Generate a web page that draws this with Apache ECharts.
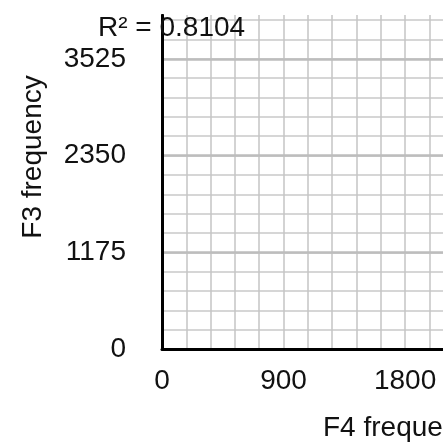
<!DOCTYPE html>
<html>
<head>
<meta charset="utf-8">
<script src="https://cdn.jsdelivr.net/npm/echarts@6/dist/echarts.min.js"></script>
<style>
  html, body { margin: 0; padding: 0; background: #fff; }
  #chart { width: 443px; height: 445px; }
</style>
</head>
<body>
<div id="chart"></div>
<script>
// Axis ticks and visible ranges
const xTickValues = [0, 900, 1800];
const yTickValues = [0, 1175, 2350, 3525];
const xRange = [0, 2081];
const yRange = [0, 4058];
const xMinorStep = 180;
const yMinorStep = 235;

// F4 / F3 frequency pairs (none fall inside the visible window)
const f4Values = [];
const f3Values = [];
const rSquared = '0.8104';

const FONT = '"Liberation Sans", Arial, Helvetica, sans-serif';
const TEXT_COLOR = '#111';

const chart = echarts.init(document.getElementById('chart'), null, { renderer: 'canvas' });

const points = f4Values.map((x, i) => [x, f3Values[i]]);

chart.setOption({
  animation: false,
  backgroundColor: '#fff',
  grid: { left: 162, top: 15, bottom: 96, right: 0, containLabel: false },
  xAxis: [
    {
      type: 'value',
      min: xRange[0], max: xRange[1], interval: xTickValues[1] - xTickValues[0],
      position: 'bottom',
      axisLine: { show: true, onZero: false, lineStyle: { color: '#000', width: 3 } },
      axisTick: { show: false },
      axisLabel: {
        margin: 18, fontFamily: FONT, fontSize: 28, color: TEXT_COLOR,
        showMaxLabel: false,
        formatter: v => xTickValues.includes(v) ? String(v) : ''
      },
      splitLine: { show: false },
      z: 5
    },
    {
      type: 'value',
      min: xRange[0], max: xRange[1], interval: xMinorStep,
      position: 'top',
      axisLine: { show: false },
      axisTick: { show: false },
      axisLabel: { show: false },
      splitLine: {
        show: true, showMinLine: false, showMaxLine: false,
        lineStyle: { color: '#c4c4c4', width: 1.5 }
      }
    }
  ],
  yAxis: [
    {
      type: 'value',
      min: yRange[0], max: yRange[1], interval: yTickValues[1] - yTickValues[0],
      position: 'left',
      axisLine: { show: true, onZero: false, lineStyle: { color: '#000', width: 3 } },
      axisTick: { show: false },
      axisLabel: {
        margin: 36, fontFamily: FONT, fontSize: 28, color: TEXT_COLOR,
        showMaxLabel: false,
        formatter: v => yTickValues.includes(v) ? String(v) : ''
      },
      splitLine: {
        show: true, showMinLine: false, showMaxLine: false,
        lineStyle: { color: '#bdbdbd', width: 2.5 }
      },
      z: 5
    },
    {
      type: 'value',
      min: yRange[0], max: yRange[1], interval: yMinorStep,
      position: 'right',
      axisLine: { show: false },
      axisTick: { show: false },
      axisLabel: { show: false },
      splitLine: {
        show: true, showMinLine: false, showMaxLine: false,
        lineStyle: { color: '#c8c8c8', width: 1.5 }
      }
    }
  ],
  series: [
    {
      type: 'scatter',
      xAxisIndex: 0, yAxisIndex: 0,
      data: points,
      symbolSize: 8,
      itemStyle: { color: '#000' }
    }
  ],
  graphic: [
    {
      type: 'text',
      x: 33, y: 157,
      rotation: Math.PI / 2,
      style: {
        text: 'F3 frequency',
        font: '28px ' + FONT,
        fill: TEXT_COLOR,
        align: 'center',
        verticalAlign: 'middle'
      },
      z: 10
    },
    {
      type: 'text',
      x: 323, y: 428,
      style: {
        text: 'F4 frequency',
        font: '28px ' + FONT,
        fill: TEXT_COLOR,
        align: 'left',
        verticalAlign: 'middle'
      },
      z: 10
    },
    {
      type: 'text',
      x: 98, y: 28,
      style: {
        text: 'R² = ' + rSquared,
        font: '28px ' + FONT,
        fill: TEXT_COLOR,
        align: 'left',
        verticalAlign: 'middle'
      },
      z: 10
    },
    {
      // blank band along the top edge
      type: 'rect',
      shape: { x: 0, y: 0, width: 443, height: 14 },
      style: { fill: '#fff' },
      z: 20
    }
  ]
});
</script>
</body>
</html>
